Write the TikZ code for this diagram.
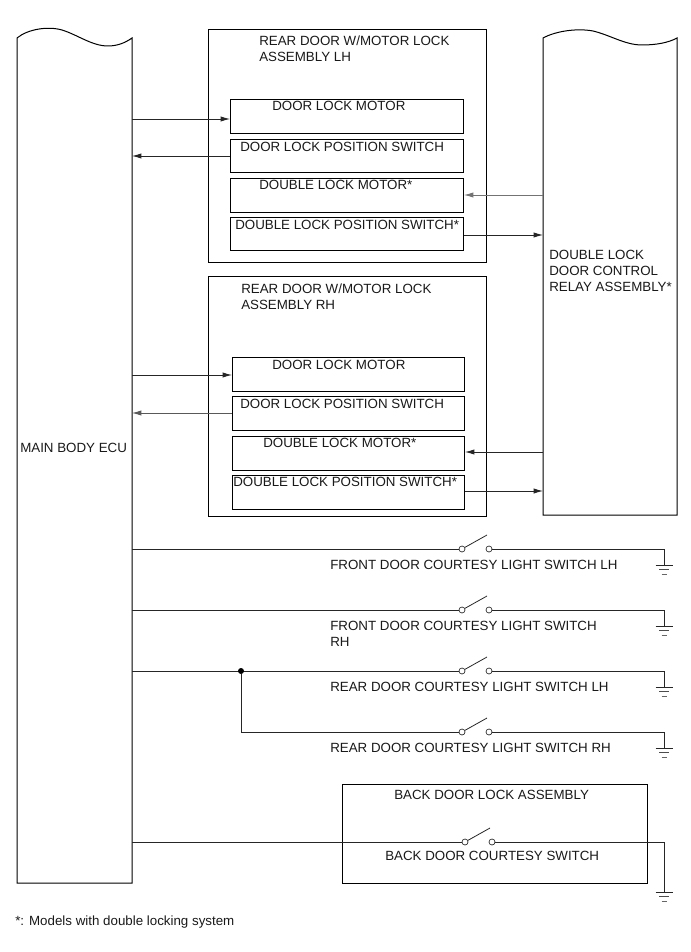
\documentclass[tikz,border=0pt]{standalone}
\usepackage{fontspec}
\setmainfont{Liberation Sans}
\usetikzlibrary{arrows.meta}
\tikzset{
  x=0.75pt,y=-0.75pt,
  box/.style={draw=black,line width=0.75pt,inner sep=0pt,rectangle},
  wire/.style={draw=black!85,line width=0.6pt},
  flow/.style={wire,-{Latex[length=7pt,width=4pt]}},
  lab/.style={anchor=west,inner sep=0pt,font=\fontsize{10pt}{11pt}\selectfont,text=black!90},
  term/.style={circle,draw=black!85,fill=white,line width=0.5pt,inner sep=0pt,minimum size=4.5pt},
  blade/.style={draw=black!85,line width=0.6pt},
  dot/.style={circle,fill=black,inner sep=0pt,minimum size=4.5pt},
  earth/.pic={
    \draw[wire] (-8.5,0) -- (8.5,0);
    \draw[wire,draw=black!70] (-5,4.5) -- (5,4.5);
    \draw[wire,draw=black!60] (-2.5,9) -- (2.5,9);
  }
}
\newcommand{\mkbox}[5]{\node[box,anchor=north west,minimum width=#4*0.75pt,minimum height=#5*0.75pt] (#1) at (#2,#3) {};}
\begin{document}
\begin{tikzpicture}
\useasboundingbox (0,0) rectangle (691,952);
% tall units with wavy tops
\draw[line width=0.75pt,draw=black] (17,883) -- (17,38) .. controls (28,29) and (48,26) .. (62,30)
  .. controls (78,35) and (92,46) .. (108,46) .. controls (117,46) and (125,43) .. (132,38) -- (132,883) -- cycle;
\draw[line width=0.75pt,draw=black] (543,515) -- (543,38) .. controls (556,31) and (577,28) .. (593,31)
  .. controls (610,35) and (625,45) .. (642,45) .. controls (655,45) and (668,43) .. (677,38) -- (677,515) -- cycle;
\node[lab] (ecu) at (20,448) {MAIN BODY ECU};
\node[lab,align=left] (relay) at (549,271) {DOUBLE LOCK\\[1.2pt]DOOR CONTROL\\[1.2pt]RELAY ASSEMBLY*};
\coordinate (ecuE) at (132,450);
\coordinate (relW) at (543,300);
% LH assembly
\mkbox{lh}{208}{29}{278}{233}
\node[lab,align=left] (lhT) at (259,49) {REAR DOOR W/MOTOR LOCK\\[1.2pt]ASSEMBLY LH};
\mkbox{lA}{230}{99}{233}{34}
\mkbox{lB}{230}{139}{233}{33}
\mkbox{lC}{230}{178}{233}{34}
\mkbox{lD}{230}{217}{233}{33}
\node[lab] (lAt) at (272,106) {DOOR LOCK MOTOR};
\node[lab] (lBt) at (240,147) {DOOR LOCK POSITION SWITCH};
\node[lab] (lCt) at (259,185) {DOUBLE LOCK MOTOR*};
\node[lab] (lDt) at (235,225) {DOUBLE LOCK POSITION SWITCH*};
% RH assembly
\mkbox{rh}{208}{276}{278}{240}
\node[lab,align=left] (rhT) at (241,297) {REAR DOOR W/MOTOR LOCK\\[1.2pt]ASSEMBLY RH};
\mkbox{rA}{232}{357}{232}{34}
\mkbox{rB}{232}{396}{232}{34}
\mkbox{rC}{232}{436}{232}{34}
\mkbox{rD}{232}{475}{232}{34}
\node[lab] (rAt) at (272,365) {DOOR LOCK MOTOR};
\node[lab] (rBt) at (240,404) {DOOR LOCK POSITION SWITCH};
\node[lab] (rCt) at (263,443) {DOUBLE LOCK MOTOR*};
\node[lab] (rDt) at (233,482) {DOUBLE LOCK POSITION SWITCH*};
% arrows
\draw[flow] (ecuE |- 0,119) -- (lA.west |- 0,119);
\draw[flow] (lB.west |- 0,156) -- (ecuE |- 0,156);
\draw[flow,draw=black!55] (relW |- 0,195) -- (lC.east |- 0,195);
\draw[flow] (lD.east |- 0,235) -- (relW |- 0,235);
\draw[flow] (ecuE |- 0,375) -- (rA.west |- 0,375);
\draw[flow,draw=black!65] (rB.west |- 0,413) -- (ecuE |- 0,413);
\draw[flow] (relW |- 0,452) -- (rC.east |- 0,452);
\draw[flow] (rD.east |- 0,491) -- (relW |- 0,491);
% back door box
\mkbox{bd}{342}{784}{305}{99}
\node[lab] (bdT) at (394,795) {BACK DOOR LOCK ASSEMBLY};
% switches
\foreach \n/\yy/\xa in {1/549/462,2/610/462,3/671/462,4/732/462,5/842/465}{
  \pgfmathsetmacro{\xb}{\xa+27}
  \pgfmathsetmacro{\xc}{\xa+25}
  \pgfmathsetmacro{\yb}{\yy-14}
  \node[term] (a\n) at (\xa,\yy) {};
  \node[term] (b\n) at (\xb,\yy) {};
  \coordinate (t\n) at (\xc,\yb);
  \draw[blade] (a\n) -- (t\n);
}
\foreach \n/\gy in {1/565,2/626,3/687,4/748,5/892}{
  \coordinate (g\n) at (664,\gy);
  \draw[wire] (b\n.east) -| (g\n);
  \pic at (g\n) {earth};
}
\draw[wire] (ecuE |- a1) -- (a1.west);
\draw[wire] (ecuE |- a2) -- (a2.west);
\draw[wire] (ecuE |- a3) -- (a3.west);
\draw[wire] (ecuE |- a5) -- (a5.west);
\node[dot] (j) at (241,671) {};
\draw[wire] (j) |- (a4.west);
\node[lab] (s1) at (330,565) {FRONT DOOR COURTESY LIGHT SWITCH LH};
\node[lab,align=left] (s2) at (330,634) {FRONT DOOR COURTESY LIGHT SWITCH\\[1.2pt]RH};
\node[lab] (s3) at (330,687) {REAR DOOR COURTESY LIGHT SWITCH LH};
\node[lab] (s4) at (330,748) {REAR DOOR COURTESY LIGHT SWITCH RH};
\node[lab] (s5) at (385,856) {BACK DOOR COURTESY SWITCH};
\node[lab] (note) at (15,922) {*: Models with double locking system};
\end{tikzpicture}
\end{document}
